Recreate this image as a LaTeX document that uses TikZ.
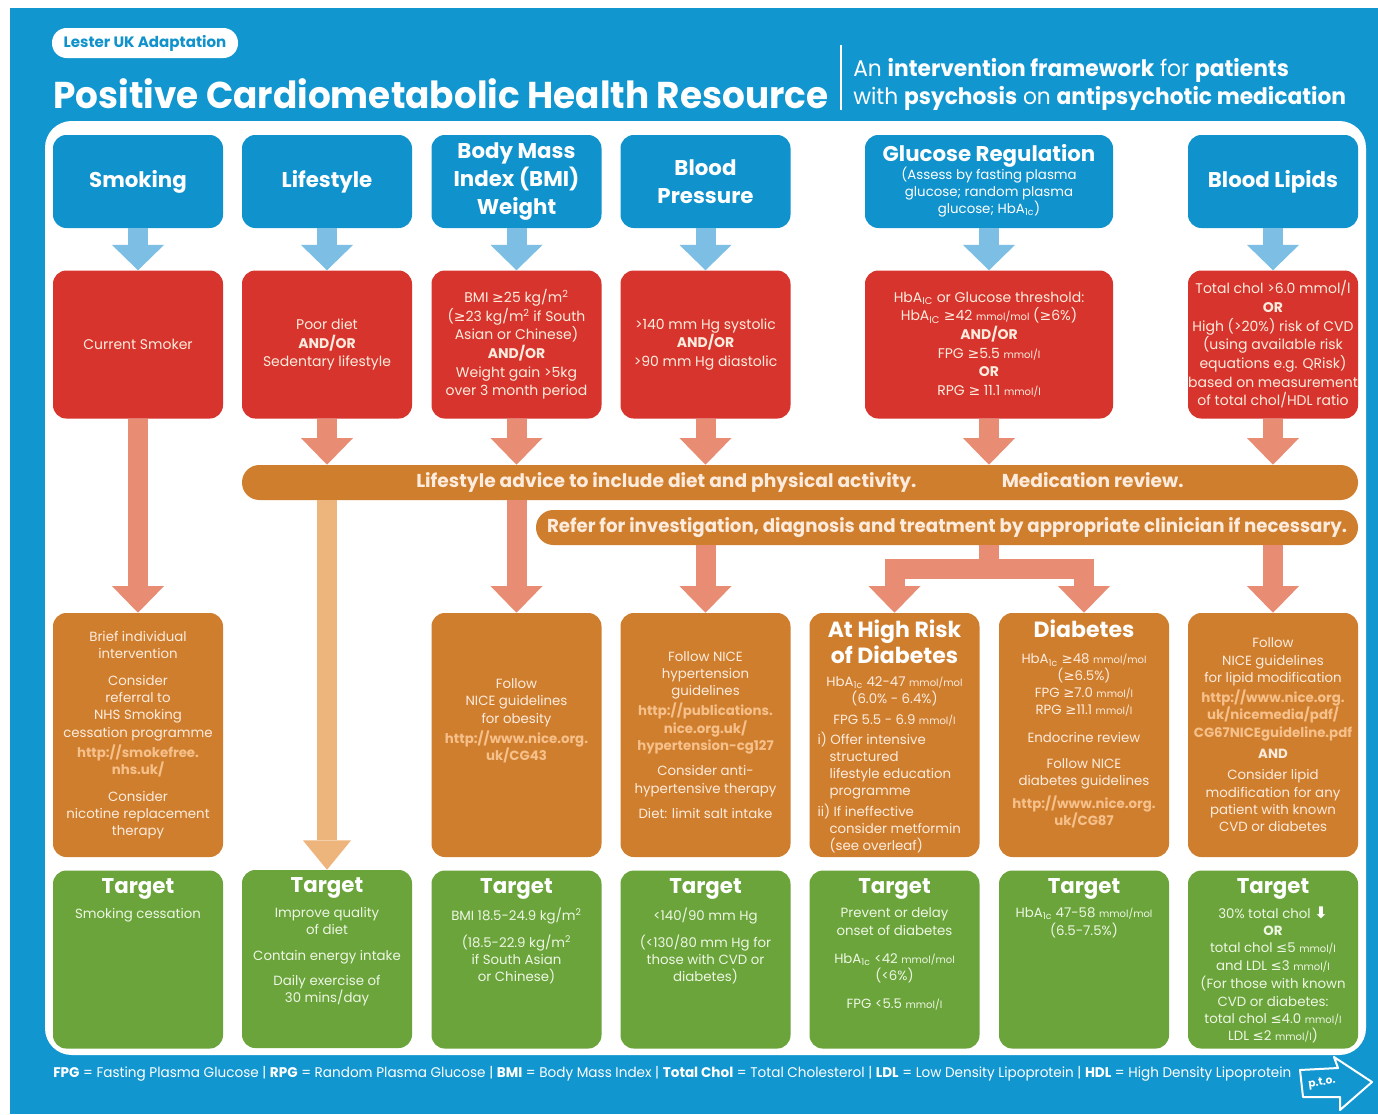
\documentclass[tikz,border=0pt]{standalone}
\usepackage{fontspec}
\setmainfont{Poppins}
\newfontfamily\symfont{DejaVu Sans}
\usepackage{graphicx}
\usetikzlibrary{arrows.meta,positioning}

\definecolor{bgblue}{RGB}{18,150,207}
\definecolor{headblue}{RGB}{16,146,204}
\definecolor{riskred}{RGB}{214,52,44}
\definecolor{actorange}{RGB}{207,126,46}
\definecolor{tgtgreen}{RGB}{106,164,58}
\definecolor{arrowblue}{RGB}{125,190,228}
\definecolor{arrowsalmon}{RGB}{233,140,116}
\definecolor{arrowtan}{RGB}{237,180,124}
\definecolor{paletext}{RGB}{253,236,222}
\definecolor{linkorange}{RGB}{246,192,138}
\definecolor{greentext}{RGB}{238,246,228}

\newcommand\smallunit[1]{{\fontsize{7.5}{9}\selectfont #1}}
\newcommand\link[1]{{\color{linkorange}\bfseries #1}}
\newcommand\geqsym{{\symfont ≥}}
\newcommand\leqsym{{\symfont ≤}}

\begin{document}
\begin{tikzpicture}[
    x=0.75pt, y=-0.75pt,
    node distance=31.5pt,
    every node/.style={align=center, inner sep=0pt},
    badge/.style={rounded corners=11pt, fill=white, text=headblue, minimum width=139.5pt, minimum height=22.5pt, font=\fontsize{11.3}{13}\selectfont\bfseries},
    header/.style={rounded corners=10pt, fill=headblue, text=white, minimum width=127.5pt, minimum height=69.75pt, font=\fontsize{16}{21}\selectfont\bfseries},
    risk/.style={rounded corners=10pt, fill=riskred, text=paletext, minimum width=127.5pt, minimum height=111pt, font=\fontsize{10.5}{14}\selectfont},
    action/.style={rounded corners=10pt, fill=actorange, text=paletext, minimum width=127.5pt, minimum height=183pt, font=\fontsize{10}{13}\selectfont},
    actfont/.style={text=paletext, font=\fontsize{10}{12.75}\selectfont},
    acthead/.style={text=white, font=\fontsize{16.5}{20}\selectfont\bfseries},
    target/.style={rounded corners=10pt, fill=tgtgreen, minimum width=127.5pt, minimum height=133.5pt},
    tgthead/.style={text=white, font=\fontsize{16}{19}\selectfont\bfseries},
    tgttext/.style={text=greentext, font=\fontsize{10}{13}\selectfont},
    advice/.style={rounded corners=13pt, fill=actorange, text=paletext, minimum height=26.25pt, font=\fontsize{14}{16}\selectfont\bfseries},
    bluearrow/.style={draw=arrowblue, line width=15pt, -{Triangle[width=39pt,length=19pt,line width=0pt]}},
    flow/.style={draw=arrowsalmon, line width=15pt, -{Triangle[width=39pt,length=20pt,line width=0pt]}},
    flowline/.style={draw=arrowsalmon, line width=15pt},
    tanflow/.style={draw=arrowtan, line width=15pt, -{Triangle[width=36pt,length=22pt,line width=0pt]}}
  ]
    \path[use as bounding box] (0,0) rectangle (1378,1114);
    \fill[bgblue] (10,8) rectangle (1378,1114);
    \fill[white, rounded corners=20pt] (45,121) rectangle (1366,1055);

    % Title block
    \node[badge] (badge) at (145,43) {Lester UK Adaptation};
    \node[anchor=base west, text=white, font=\fontsize{28}{32}\selectfont\bfseries] (title) at (53,108)
      {\scalebox{0.96}[1]{Positive Cardiometabolic Health Resource}};
    \draw[white, line width=0.8pt] (841,45) -- (841,110);
    \node[anchor=base west, text=white, font=\fontsize{17}{20}\selectfont] (subtitle1) at (853,76)
      {\scalebox{0.96}[1]{An \textbf{intervention framework} for \textbf{patients}}};
    \node[anchor=base west, text=white, font=\fontsize{17}{20}\selectfont] (subtitle2) at (853,104)
      {\scalebox{0.96}[1]{with \textbf{psychosis} on \textbf{antipsychotic medication}}};

    % Measures
    \node[header] (smoking) at (138,181.5) {Smoking};
    \node[header] (lifestyle) at (327,181.5) {Lifestyle};
    \node[header] (bmi) at (516.5,181.5) {Body Mass\\Index (BMI)\\Weight};
    \node[header] (bp) at (705.5,181.5) {Blood\\Pressure};
    \node[header, minimum width=186pt] (glucose) at (989,181.5) {Glucose Regulation\\[-1pt]
      {\mdseries\fontsize{10}{12.4}\selectfont\begin{tabular}{@{}c@{}}(Assess by fasting plasma\\glucose; random plasma\\glucose; HbA\textsubscript{1c})\end{tabular}}};
    \node[header] (lipids) at (1273,181.5) {Blood Lipids};

    % Risk thresholds
    \node[risk, below=of smoking] (smoker) {Current Smoker};
    \node[risk, below=of lifestyle] (poordiet) {Poor diet\\\textbf{AND/OR}\\Sedentary lifestyle};
    \node[risk, below=of bmi] (bmirisk) {BMI \geqsym25 kg/m\textsuperscript{2}\\(\geqsym23 kg/m\textsuperscript{2} if South\\Asian or Chinese)\\\textbf{AND/OR}\\Weight gain >5kg\\over 3 month period};
    \node[risk, below=of bp] (bprisk) {>140 mm Hg systolic\\\textbf{AND/OR}\\>90 mm Hg diastolic};
    \node[risk, below=of glucose, minimum width=186pt] (glucrisk) {HbA\textsubscript{IC} or Glucose threshold:\\HbA\textsubscript{IC} \geqsym42 \smallunit{mmol/mol} (\geqsym6\%)\\\textbf{AND/OR}\\FPG \geqsym5.5 \smallunit{mmol/l}\\\textbf{OR}\\RPG \geqsym\ 11.1 \smallunit{mmol/l}};
    \node[risk, below=of lipids] (lipidrisk) {Total chol >6.0 mmol/l\\\textbf{OR}\\High (>20\%) risk of CVD\\(using available risk\\equations e.g. QRisk)\\based on measurement\\of total chol/HDL ratio};

    % Advice bars
    \node[advice, minimum width=837pt] (bar1) at (800,482.5)
      {Lifestyle advice to include diet and physical activity.\hspace{64pt}Medication review.};
    \node[advice, minimum width=616.5pt] (bar2) at (947,527.5)
      {\scalebox{0.975}[1]{Refer for investigation, diagnosis and treatment by appropriate clinician if necessary.}};

    % Interventions
    \node[action] (brief) at (138,735) {Brief individual\\intervention\\[7pt]Consider\\referral to\\NHS Smoking\\cessation programme\\[2pt]\link{http://smokefree.}\\\link{nhs.uk/}\\[7pt]Consider\\nicotine replacement\\therapy};
    \node[action] (obesity) at (516.5,735) {Follow\\NICE guidelines\\for obesity\\[2pt]\link{http://www.nice.org.}\\\link{uk/CG43}\\[10pt]\mbox{}};
    \node[action] (hyper) at (705.5,735) {Follow NICE\\hypertension\\guidelines\\[2pt]\link{http://publications.}\\\link{nice.org.uk/}\\\link{hypertension-cg127}\\[6pt]Consider anti-\\hypertensive therapy\\[6pt]Diet: limit salt intake};
    \node[action] (hirisk) at (894.5,735) {};
    \node[action] (diab) at (1084,735) {};
    \node[action] (lipidmod) at (1273,735) {Follow\\NICE guidelines\\for lipid modification\\[2pt]\link{http://www.nice.org.}\\\link{uk/nicemedia/pdf/}\\\link{CG67NICEguideline.pdf}\\[3pt]\textbf{AND}\\[3pt]Consider lipid\\modification for any\\patient with known\\CVD or diabetes};

    \node[acthead, below=5pt of hirisk.north] (hiriskhd) {At High Risk\\of Diabetes};
    \node[actfont, below=9pt of hiriskhd] (hirisktxt) {HbA\textsubscript{1c} 42-47 \smallunit{mmol/mol}\\(6.0\% - 6.4\%)\\[3pt]FPG 5.5 - 6.9 \smallunit{mmol/l}};
    \coordinate (hrlist) at (hirisk.west |- hirisktxt.south);
    \node[actfont, align=left, below right=4pt and 6pt of hrlist] (hirisklist) {i) Offer intensive\\\hspace*{0.9em}structured\\\hspace*{0.9em}lifestyle education\\\hspace*{0.9em}programme\\[3pt]ii) If ineffective\\\hspace*{0.9em}consider metformin\\\hspace*{0.9em}(see overleaf)};

    \node[acthead, below=5pt of diab.north] (diabhd) {Diabetes};
    \node[actfont, below=12pt of diabhd] (diabtxt) {HbA\textsubscript{1c} \geqsym48 \smallunit{mmol/mol}\\(\geqsym6.5\%)\\FPG \geqsym7.0 \smallunit{mmol/l}\\RPG \geqsym11.1 \smallunit{mmol/l}\\[8pt]Endocrine review\\[7pt]Follow NICE\\diabetes guidelines\\[4pt]\link{http://www.nice.org.}\\\link{uk/CG87}};

    % Targets
    \node[target, below=9.75pt of brief] (tsmoke) {};
    \node[target] (tlife) at (327,959) {};
    \node[target, below=9.75pt of obesity] (tbmi) {};
    \node[target, below=9.75pt of hyper] (tbp) {};
    \node[target, below=9.75pt of hirisk] (thrisk) {};
    \node[target, below=9.75pt of diab] (tdiab) {};
    \node[target, below=9.75pt of lipidmod] (tlipid) {};

    \foreach \t in {tsmoke, tlife, tbmi, tbp, thrisk, tdiab, tlipid}
      \node[tgthead, below=6pt of \t.north] (\t hd) {Target};

    \node[tgttext, below=6pt of tsmokehd] (tsmoketxt) {Smoking cessation};
    \node[tgttext, below=6pt of tlifehd] (tlifetxt) {Improve quality\\of diet\\[6pt]Contain energy intake\\[6pt]Daily exercise of\\30 mins/day};
    \node[tgttext, below=6pt of tbmihd] (tbmitxt) {BMI 18.5-24.9 kg/m\textsuperscript{2}\\[7pt](18.5-22.9 kg/m\textsuperscript{2}\\if South Asian\\or Chinese)};
    \node[tgttext, below=6pt of tbphd] (tbptxt) {<140/90 mm Hg\\[7pt](<130/80 mm Hg for\\those with CVD or\\diabetes)};
    \node[tgttext, below=6pt of thriskhd] (thrisktxt) {Prevent or delay\\onset of diabetes\\[8pt]HbA\textsubscript{1c} <42 \smallunit{mmol/mol}\\(<6\%)\\[8pt]FPG <5.5 \smallunit{mmol/l}};
    \node[tgttext, below=6pt of tdiabhd] (tdiabtxt) {HbA\textsubscript{1c} 47-58 \smallunit{mmol/mol}\\(6.5-7.5\%)};
    \node[tgttext, below=5pt of tlipidhd] (tlipidtxt) {30\% total chol {\color{white}\symfont\bfseries\fontsize{12}{12}\selectfont ⬇}\\\textbf{OR}\\total chol \leqsym5 \smallunit{mmol/l}\\and LDL \leqsym3 \smallunit{mmol/l}\\[1pt](For those with known\\CVD or diabetes:\\total chol \leqsym4.0 \smallunit{mmol/l}\\LDL \leqsym2 \smallunit{mmol/l})};

    % Connections
    \foreach \a/\b in {smoking/smoker, lifestyle/poordiet, bmi/bmirisk, bp/bprisk, glucose/glucrisk, lipids/lipidrisk}
      \draw[bluearrow] (\a) -- (\b);
    \foreach \r in {poordiet, bmirisk, bprisk, glucrisk, lipidrisk}
      \draw[flow] (\r) -- (\r |- bar1.north);
    \draw[flow] (smoker) -- (brief);
    \draw[tanflow] (poordiet |- bar1.south) -- (tlife);
    \draw[flow] (bmirisk |- bar1.south) -- (obesity);
    \draw[flow] (bprisk |- bar2.south) -- (hyper);
    \draw[flow] (lipidrisk |- bar2.south) -- (lipidmod);

    % Fork to high risk / diabetes
    \coordinate (fork) at (989,569);
    \draw[flowline] (fork |- bar2.south) -- (fork);
    \draw[flowline, line cap=rect] (fork -| hirisk.north) -- (fork -| diab.north);
    \draw[flow] (fork -| hirisk.north) -- (hirisk);
    \draw[flow] (fork -| diab.north) -- (diab);

    % Footer
    \node[anchor=base west, text=white, font=\fontsize{10.5}{12}\selectfont] (footer) at (53,1077)
      {\scalebox{0.97}[1]{\textbf{FPG} = Fasting Plasma Glucose | \textbf{RPG} = Random Plasma Glucose | \textbf{BMI} = Body Mass Index | \textbf{Total Chol} = Total Cholesterol | \textbf{LDL} = Low Density Lipoprotein | \textbf{HDL} = High Density Lipoprotein}};
    \draw[white, line width=1.5pt, fill=bgblue, line join=round] (1300,1070) -- (1338,1068) -- (1334,1057) -- (1372,1082) -- (1340,1110) -- (1340,1097) -- (1303,1097) -- cycle;
    \node[text=white, font=\fontsize{8}{9}\selectfont\bfseries, rotate=8] (pto) at (1322,1083) {p.t.o.};
  \end{tikzpicture}
\end{document}
